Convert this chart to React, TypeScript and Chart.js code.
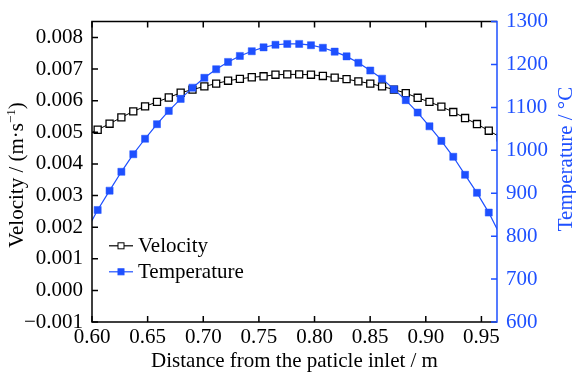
import React, { useEffect, useRef } from 'react';
import { Chart, registerables } from 'chart.js';

Chart.register(...registerables);

// ---------- data ----------
const DISTANCE = [
  0.5945, 0.6051, 0.6158, 0.6264, 0.6371, 0.6477, 0.6584, 0.669, 0.6797, 0.6903,
  0.701, 0.7116, 0.7223, 0.7329, 0.7436, 0.7542, 0.7649, 0.7755, 0.7862, 0.7968,
  0.8075, 0.8181, 0.8288, 0.8394, 0.8501, 0.8607, 0.8714, 0.882, 0.8927, 0.9033,
  0.914, 0.9247, 0.9353, 0.946, 0.9566, 0.9673,
];
const VELOCITY = [
  0.00489, 0.00508, 0.00527, 0.00547, 0.00566, 0.00582, 0.00596, 0.0061, 0.00625, 0.00635,
  0.00645, 0.00654, 0.00663, 0.00669, 0.00674, 0.00677, 0.00682, 0.00683, 0.00683, 0.00682,
  0.00678, 0.00673, 0.00668, 0.00661, 0.00654, 0.00645, 0.00635, 0.00624, 0.00609, 0.00596,
  0.00581, 0.00564, 0.00545, 0.00526, 0.00505, 0.00484,
];
const TEMPERATURE = [
  810, 861, 906, 950, 991, 1027, 1061, 1092, 1120, 1146,
  1169, 1189, 1206, 1220, 1231, 1240, 1246, 1248, 1248, 1245,
  1239, 1230, 1219, 1204, 1186, 1167, 1142, 1117, 1088, 1056,
  1022, 985, 943, 901, 855, 800,
];
const X_TICKS = [0.6, 0.65, 0.7, 0.75, 0.8, 0.85, 0.9, 0.95];
const VEL_TICKS = [-0.001, 0, 0.001, 0.002, 0.003, 0.004, 0.005, 0.006, 0.007, 0.008];
const TEMP_TICKS = [600, 700, 800, 900, 1000, 1100, 1200, 1300];

const SERIES_LABELS = ['Velocity', 'Temperature'];
const X_TITLE = 'Distance from the paticle inlet / m';
const Y_TITLE = ['Velocity / (m·s', '−1', ')'];
const Y2_TITLE = 'Temperature / °C';

const BLUE = '#1e50ff';
const FAMILY = 'Liberation Serif';
const FONT = `"${FAMILY}", serif`;

Chart.defaults.font.family = FONT;
Chart.defaults.font.size = 21;
Chart.defaults.color = '#000';

const framePlugin = {
  id: 'frame',
  afterDraw(chart: any) {
    const { ctx, chartArea, scales } = chart;
    const { left, right, top, bottom } = chartArea;
    ctx.save();
    ctx.lineWidth = 1.5;
    ctx.lineCap = 'butt';
    ctx.strokeStyle = '#000';
    ctx.beginPath();
    X_TICKS.forEach((v) => {
      const px = scales.x.getPixelForValue(v);
      ctx.moveTo(px, bottom);
      ctx.lineTo(px, bottom - 6);
      ctx.moveTo(px, top);
      ctx.lineTo(px, top + 6);
    });
    VEL_TICKS.forEach((v) => {
      const py = scales.y.getPixelForValue(v);
      ctx.moveTo(left, py);
      ctx.lineTo(left + 6, py);
    });
    ctx.stroke();
    ctx.beginPath();
    ctx.moveTo(right, top);
    ctx.lineTo(left, top);
    ctx.lineTo(left, bottom);
    ctx.lineTo(right, bottom);
    ctx.stroke();
    ctx.strokeStyle = BLUE;
    ctx.beginPath();
    ctx.moveTo(right, top - 0.75);
    ctx.lineTo(right, bottom + 0.75);
    TEMP_TICKS.forEach((v) => {
      const py = scales.y2.getPixelForValue(v);
      ctx.moveTo(right, py);
      ctx.lineTo(right - 6, py);
    });
    ctx.stroke();

    // legend
    ctx.font = `21px ${FONT}`;
    ctx.textBaseline = 'alphabetic';
    ctx.textAlign = 'left';
    chart.data.datasets.forEach((ds: any, i: number) => {
      const base = top + 230.2 + i * 26;
      const ly = base - 6;
      ctx.lineWidth = 1.2;
      ctx.strokeStyle = ds.borderColor;
      ctx.beginPath();
      ctx.moveTo(left + 17, ly);
      ctx.lineTo(left + 41, ly);
      ctx.stroke();
      ctx.fillStyle = ds.pointBackgroundColor;
      ctx.fillRect(left + 26, ly - 3, 6, 6);
      ctx.lineWidth = 1;
      ctx.strokeStyle = ds.pointBorderColor;
      ctx.strokeRect(left + 26, ly - 3, 6, 6);
      ctx.fillStyle = '#000';
      ctx.fillText(ds.label, left + 46, base);
    });

    // axis titles
    ctx.fillStyle = '#000';
    ctx.textAlign = 'center';
    ctx.fillText(X_TITLE, (left + right) / 2, 367);

    ctx.save();
    ctx.translate(23, 175);
    ctx.rotate(-Math.PI / 2);
    ctx.font = `21px ${FONT}`;
    const w1 = ctx.measureText(Y_TITLE[0]).width;
    const w3 = ctx.measureText(Y_TITLE[2]).width;
    ctx.font = `13px ${FONT}`;
    const w2 = ctx.measureText(Y_TITLE[1]).width;
    const total = w1 + w2 + w3;
    const x0 = -total / 2;
    ctx.textAlign = 'left';
    ctx.font = `21px ${FONT}`;
    ctx.fillText(Y_TITLE[0], x0, 0);
    ctx.font = `13px ${FONT}`;
    ctx.fillText(Y_TITLE[1], x0 + w1, -8);
    ctx.font = `21px ${FONT}`;
    ctx.fillText(Y_TITLE[2], x0 + w1 + w2, 0);
    ctx.restore();

    ctx.save();
    ctx.translate(571.5, 159);
    ctx.rotate(-Math.PI / 2);
    ctx.font = `21px ${FONT}`;
    ctx.textAlign = 'center';
    ctx.fillStyle = BLUE;
    ctx.fillText(Y2_TITLE, 0, 0);
    ctx.restore();

    ctx.restore();
  },
};

export default function App() {
  const ref = useRef<HTMLCanvasElement | null>(null);

  useEffect(() => {
    document.body.style.margin = '0';
    if (!ref.current) return;
    const tickFont = { family: FONT, size: 21 };
    const noGrid = { display: false, drawTicks: false };
    const chart = new Chart(ref.current, {
      type: 'line',
      data: {
        datasets: [
          {
            label: SERIES_LABELS[0],
            data: DISTANCE.map((x, i) => ({ x, y: VELOCITY[i] })),
            yAxisID: 'y',
            borderColor: '#000',
            borderWidth: 1,
            pointStyle: 'rect',
            pointRadius: 5,
            pointBackgroundColor: '#fff',
            pointBorderColor: '#000',
            pointBorderWidth: 1.3,
            clip: 0,
            order: 1,
          },
          {
            label: SERIES_LABELS[1],
            data: DISTANCE.map((x, i) => ({ x, y: TEMPERATURE[i] })),
            yAxisID: 'y2',
            borderColor: BLUE,
            borderWidth: 1.2,
            pointStyle: 'rect',
            pointRadius: 5,
            pointBackgroundColor: BLUE,
            pointBorderColor: BLUE,
            pointBorderWidth: 0.5,
            clip: 0,
            order: 0,
          },
        ],
      },
      options: {
        responsive: false,
        animation: false,
        events: [],
        font: tickFont,
        layout: { padding: { top: 20.5, left: 0, right: 0, bottom: 0 } },
        plugins: { legend: { display: false }, tooltip: { enabled: false } },
        scales: {
          x: {
            type: 'linear',
            min: 0.6,
            max: 0.964,
            grid: noGrid,
            border: { display: false },
            afterBuildTicks: (s: any) => { s.ticks = X_TICKS.map((v) => ({ value: v })); },
            afterFit: (s: any) => { s.height = 52; },
            ticks: {
              color: '#000',
              font: tickFont,
              padding: 3,
              maxRotation: 0,
              autoSkip: false,
              callback: (v: any) => Number(v).toFixed(2),
            },
          },
          y: {
            type: 'linear',
            position: 'left',
            min: -0.001,
            max: 0.0085,
            grid: noGrid,
            border: { display: false },
            afterBuildTicks: (s: any) => { s.ticks = VEL_TICKS.map((v) => ({ value: v })); },
            afterFit: (s: any) => { s.width = 92; },
            ticks: {
              color: '#000',
              font: tickFont,
              padding: 9,
              autoSkip: false,
              callback: (v: any) => Number(v).toFixed(3).replace('-', '−'),
            },
          },
          y2: {
            type: 'linear',
            position: 'right',
            min: 600,
            max: 1300,
            grid: noGrid,
            border: { display: false },
            afterBuildTicks: (s: any) => { s.ticks = TEMP_TICKS.map((v) => ({ value: v })); },
            afterFit: (s: any) => { s.width = 79; },
            ticks: {
              color: BLUE,
              font: tickFont,
              padding: 9,
              autoSkip: false,
              callback: (v: any) => String(v),
            },
          },
        },
      },
      plugins: [framePlugin],
    });
    return () => chart.destroy();
  }, []);

  return (
    <div style={{ width: 576, height: 374, position: 'relative' }}>
      <canvas ref={ref} width={576} height={374} style={{ display: 'block' }} />
    </div>
  );
}
